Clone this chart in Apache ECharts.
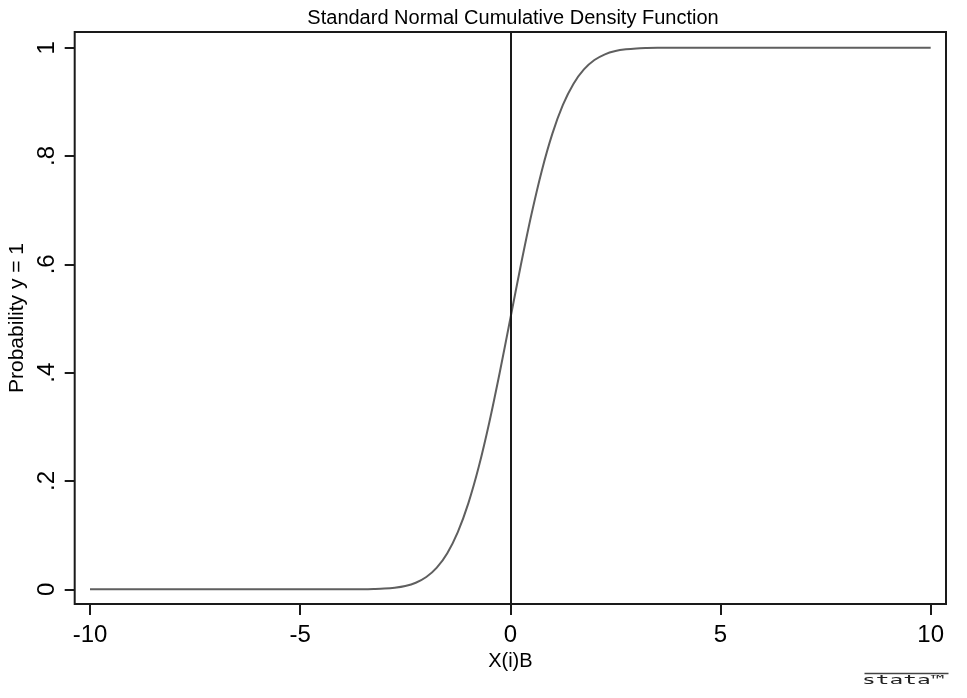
<!DOCTYPE html>
<html><head><meta charset="utf-8">
<script src="https://cdn.jsdelivr.net/npm/echarts@6/dist/echarts.min.js"></script>
<style>html,body{margin:0;padding:0;background:#fff}#c{width:967px;height:698px}</style>
</head><body><div id="c"></div>
<script>
// Data
const xValues = [-10, -6, -4, -3.5, -3.25, -3, -2.75, -2.5, -2.25, -2, -1.75, -1.5, -1.25, -1, -0.75, -0.5, -0.25, 0,
                 0.25, 0.5, 0.75, 1, 1.25, 1.5, 1.75, 2, 2.25, 2.5, 2.75, 3, 3.25, 3.5, 4, 6, 10];
const yValues = [0, 0, 0.0001, 0.0002, 0.0006, 0.0013, 0.003, 0.0062, 0.0122, 0.0228, 0.0401, 0.0668, 0.1056, 0.1587, 0.2266, 0.3085, 0.4013, 0.5,
                 0.5987, 0.6915, 0.7734, 0.8413, 0.8944, 0.9332, 0.9599, 0.9772, 0.9878, 0.9938, 0.997, 0.9987, 0.9994, 0.9998, 0.9999, 1, 1];
const xTicks = [-10, -5, 0, 5, 10];
const yTicks = [0, 0.2, 0.4, 0.6, 0.8, 1];
const yTickLabels = ['0', '.2', '.4', '.6', '.8', '1'];
const refLineX = 0;

const chart = echarts.init(document.getElementById('c'), null, {renderer: 'canvas'});
const font = 'Liberation Sans, Arial, sans-serif';
chart.setOption({
  animation: false,
  backgroundColor: '#fff',
  title: {
    text: 'Standard Normal Cumulative Density Function',
    left: 508, top: 3, textAlign: 'center',
    textStyle: {fontFamily: font, fontSize: 20, fontWeight: 'normal', color: '#000'}
  },
  grid: {left: 74.7, right: 21, top: 32, bottom: 94, containLabel: false, outerBoundsMode: 'none',
    show: true, borderColor: '#1a1a1a', borderWidth: 2, backgroundColor: '#fff'},
  xAxis: {
    type: 'value', min: -10.364, max: 10.364,
    name: 'X(i)B', nameLocation: 'middle', nameGap: 34,
    nameTextStyle: {fontFamily: font, fontSize: 20, color: '#000'},
    axisLine: {show: false, onZero: false},
    splitLine: {show: false},
    axisTick: {show: true, length: 11, inside: false, customValues: xTicks, lineStyle: {color: '#1a1a1a', width: 2}},
    axisLabel: {customValues: xTicks, margin: 19, fontFamily: font, fontSize: 24, color: '#000',
      formatter: v => String(Math.round(v))}
  },
  yAxis: {
    type: 'value', min: -0.0271, max: 1.029,
    name: 'Probability y = 1', nameLocation: 'middle', nameGap: 35,
    nameTextStyle: {fontFamily: font, fontSize: 21, color: '#000'},
    axisLine: {show: false, onZero: false},
    splitLine: {show: false},
    axisTick: {show: true, length: 10, customValues: yTicks, lineStyle: {color: '#1a1a1a', width: 2}},
    axisLabel: {customValues: yTicks, rotate: 90, margin: 15, fontFamily: font, fontSize: 24, color: '#000',
      formatter: v => { const i = yTicks.findIndex(t => Math.abs(t - v) < 1e-6); return i >= 0 ? yTickLabels[i] : ''; }}
  },
  series: [{
    type: 'line',
    data: xValues.map((x, i) => [x, yValues[i]]),
    smooth: 0.3,
    showSymbol: false,
    lineStyle: {color: '#5f5f5f', width: 2},
    markLine: {
      silent: true, symbol: 'none', label: {show: false},
      lineStyle: {color: '#1a1a1a', width: 2, type: 'solid'},
      data: [{xAxis: refLineX}]
    }
  }],
  graphic: [
    {type: 'line', left: 862, top: 671, shape: {x1: 0, y1: 0, x2: 84, y2: 0}, style: {stroke: '#444', lineWidth: 1.5}},
    {type: 'text', left: 862, top: 675, scaleX: 1.9, style: {text: 'stata\u2122', font: '12px DejaVu Sans Mono, monospace', fill: '#222'}}
  ]
});
</script></body></html>
